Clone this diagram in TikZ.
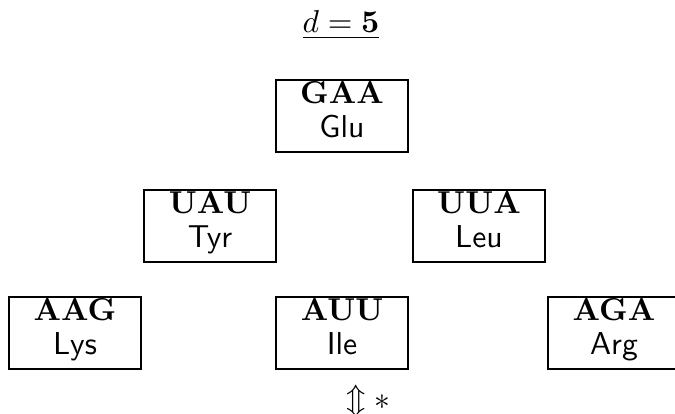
\documentclass[tikz,border=0pt]{standalone}
\usepackage{amsmath}
\begin{document}
\begin{tikzpicture}[x=0.316pt,y=-0.316pt,
  codonbox/.style={draw, line width=0.45pt, minimum width=132*0.316pt, minimum height=72*0.316pt, inner sep=0pt},
  codon/.style={anchor=base, inner sep=0pt, font=\bfseries},
  amino/.style={anchor=base, inner sep=0pt, font=\sffamily}]
\useasboundingbox (0,0) rectangle (675,414);
\clip (0,0) rectangle (675,414);
\node[anchor=base, inner sep=0pt] (title) at (341,33) {$\underline{d = \mathbf{5}}$};
% boxes
\foreach \n/\x/\y/\c/\a in {gaa/342/116/GAA/Glu, uau/210/226/UAU/Tyr, uua/479/226/UUA/Leu,
  aag/75/333/AAG/Lys, auu/342/333/AUU/Ile, aga/614/333/AGA/Arg}{
  \node[codonbox] (\n) at (\x,\y) {};
  \node[codon] (\n c) at (\x,\y-12) {\c};
  \node[amino] (\n a) at (\x,\y+22) {\a};
}
\node[anchor=base, inner sep=0pt] (sym) at (368,410) {$\Updownarrow *$};
\end{tikzpicture}
\end{document}
